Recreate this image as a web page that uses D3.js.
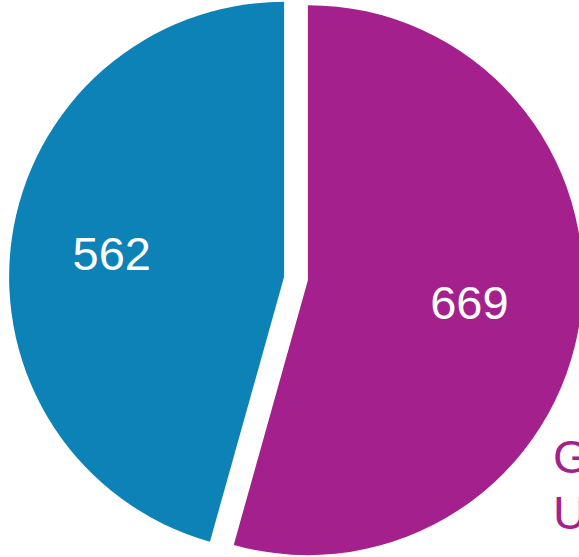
<!DOCTYPE html>
<html>
<head>
<meta charset="utf-8">
<script src="https://cdn.jsdelivr.net/npm/d3@7"></script>
<style>
  html, body { margin: 0; padding: 0; background: #fff; overflow: hidden; }
  svg { display: block; }
</style>
</head>
<body>
<svg id="chart" width="579" height="557"></svg>
<script>
// Data
const categories = ["Graduate", "Undergraduate"];
const values = [669, 562];
const colors = ["#A4218D", "#0D82B7"];

// Layout
const W = 579, H = 557;
const cx = 296, cy = 278.5, R = 275;
const explode = 12;
const labelDist = [163, 174];

const svg = d3.select("#chart");

const pie = d3.pie().sort(null).value(d => d.value).startAngle(0).endAngle(2 * Math.PI);
const arcs = pie(categories.map((c, i) => ({ name: c, value: values[i], color: colors[i] })));
const arc = d3.arc().innerRadius(0).outerRadius(R);

const g = svg.append("g").attr("transform", `translate(${cx},${cy})`);

const slices = g.selectAll("g.slice").data(arcs).join("g")
  .attr("class", "slice")
  .attr("transform", d => {
    const m = (d.startAngle + d.endAngle) / 2;
    return `translate(${Math.sin(m) * explode},${-Math.cos(m) * explode})`;
  });

slices.append("path")
  .attr("d", arc)
  .attr("fill", d => d.data.color);

slices.append("text")
  .attr("x", (d, i) => Math.sin((d.startAngle + d.endAngle) / 2) * labelDist[i])
  .attr("y", (d, i) => -Math.cos((d.startAngle + d.endAngle) / 2) * labelDist[i])
  .attr("text-anchor", "middle")
  .attr("dominant-baseline", "central")
  .attr("fill", "#fff")
  .attr("font-family", "'Liberation Sans', Arial, sans-serif")
  .attr("font-size", 47)
  .text(d => d3.format("d")(d.data.value));

// Legend (clipped at right edge, as in the reference)
const legend = svg.append("g");
legend.selectAll("text").data(categories).join("text")
  .attr("x", 553)
  .attr("y", (d, i) => 473 + i * 56)
  .attr("fill", colors[0])
  .attr("font-family", "'Liberation Sans', Arial, sans-serif")
  .attr("font-size", 47)
  .text(d => d);
</script>
</body>
</html>
